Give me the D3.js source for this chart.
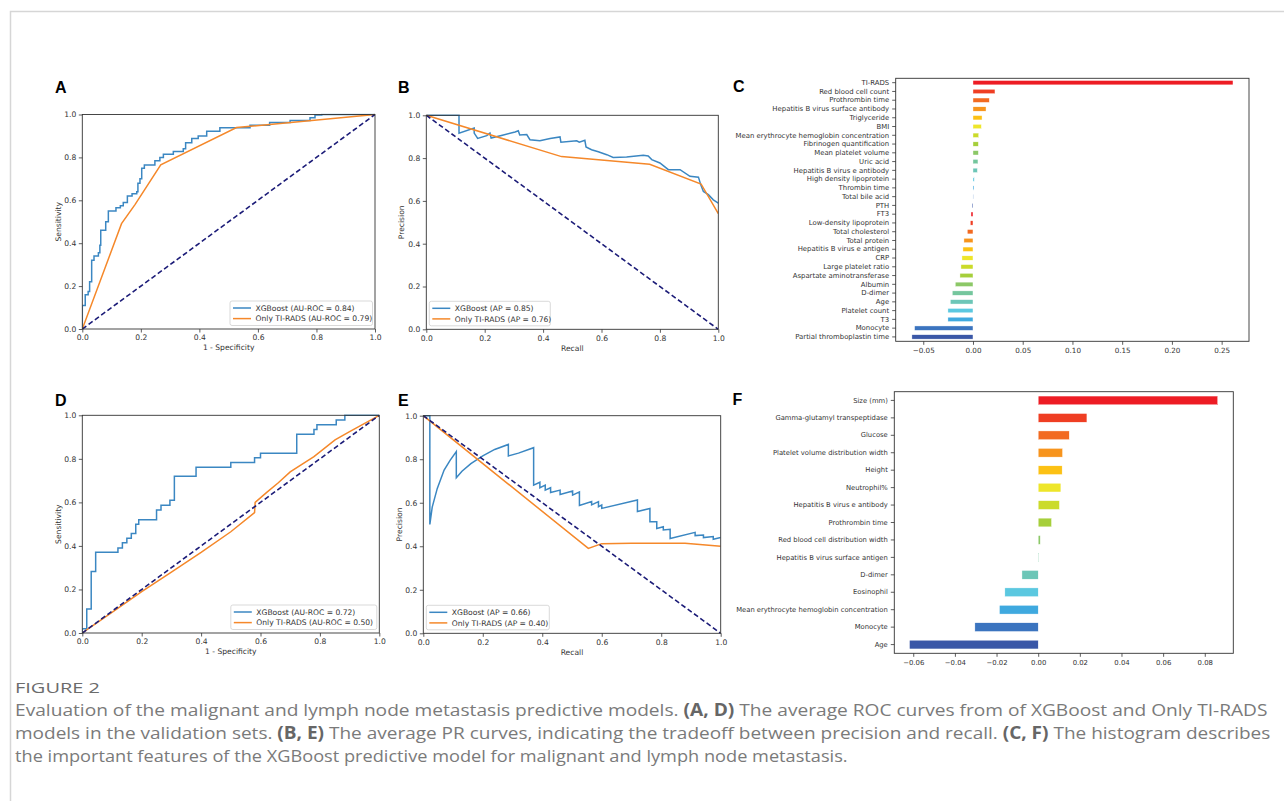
<!DOCTYPE html>
<html><head><meta charset="utf-8">
<script src="https://cdn.jsdelivr.net/npm/d3@7"></script>
<style>html,body{margin:0;padding:0;background:#fff;} svg{display:block;}</style>
</head><body>
<script>
// ---------------- DATA ----------------
const rocTicks = [0, 0.2, 0.4, 0.6, 0.8, 1.0];
const legendA = ['XGBoost (AU-ROC = 0.84)', 'Only TI-RADS (AU-ROC = 0.79)'];
const legendB = ['XGBoost (AP = 0.85)', 'Only TI-RADS (AP = 0.76)'];
const legendD = ['XGBoost (AU-ROC = 0.72)', 'Only TI-RADS (AU-ROC = 0.50)'];
const legendE = ['XGBoost (AP = 0.66)', 'Only TI-RADS (AP = 0.40)'];

// Panel A ROC (malignancy) — XGBoost staircase corners (fpr, tpr)
const aXgbX = [0,0,0.01,0.02,0.025,0.032,0.04,0.055,0.06,0.063,0.08,0.089,0.115,0.13,0.14,0.154,0.17,0.186,0.19,0.197,0.203,0.212,0.248,0.265,0.277,0.311,0.345,0.353,0.374,0.396,0.425,0.47,0.573,0.64,0.71,0.778,0.795,0.818,1];
const aXgbY = [0,0.11,0.16,0.175,0.22,0.32,0.34,0.355,0.39,0.46,0.50,0.55,0.565,0.575,0.59,0.62,0.63,0.64,0.68,0.70,0.75,0.764,0.784,0.80,0.815,0.827,0.84,0.868,0.888,0.90,0.922,0.938,0.95,0.963,0.972,0.985,0.998,1.0,1.0];
const aTiX = [0,0.134,0.18,0.268,0.527,1];
const aTiY = [0,0.491,0.58,0.765,0.939,1];

// Panel B PR (malignancy)
const bXgbX = [0,0.112,0.112,0.164,0.164,0.176,0.207,0.218,0.222,0.264,0.304,0.315,0.32,0.344,0.355,0.389,0.424,0.458,0.461,0.515,0.524,0.543,0.547,0.566,0.589,0.618,0.64,0.686,0.743,0.76,0.772,0.8,0.829,0.869,0.903,0.932,0.94,0.949,0.966,0.983,1.0];
const bXgbY = [1,1,0.916,0.94,0.917,0.892,0.905,0.917,0.894,0.908,0.922,0.928,0.908,0.91,0.886,0.881,0.892,0.899,0.874,0.881,0.874,0.883,0.852,0.839,0.83,0.816,0.803,0.805,0.813,0.81,0.793,0.777,0.746,0.746,0.715,0.711,0.675,0.644,0.629,0.605,0.59];
const bTiX = [0,0.463,0.765,0.941,1.0];
const bTiY = [1,0.807,0.771,0.679,0.541];

// Panel C feature importance (malignancy)
const featuresC = ['TI-RADS','Red blood cell count','Prothrombin time','Hepatitis B virus surface antibody','Triglyceride','BMI','Mean erythrocyte hemoglobin concentration','Fibrinogen quantification','Mean platelet volume','Uric acid','Hepatitis B virus e antibody','High density lipoprotein','Thrombin time','Total bile acid','PTH','FT3','Low-density lipoprotein','Total cholesterol','Total protein','Hepatitis B virus e antigen','CRP','Large platelet ratio','Aspartate aminotransferase','Albumin','D-dimer','Age','Platelet count','T3','Monocyte','Partial thromboplastin time'];
const importanceC = [0.2614,0.0221,0.0164,0.0131,0.0091,0.0084,0.0057,0.0054,0.0054,0.0050,0.0044,0.0013,0.0010,0.0003,-0.0009,-0.0020,-0.0027,-0.0057,-0.0091,-0.0101,-0.0111,-0.0121,-0.0131,-0.0178,-0.0208,-0.0228,-0.0252,-0.0252,-0.0587,-0.0614];
const ticksC = [-0.05,0,0.05,0.10,0.15,0.20,0.25];

// Panel D ROC (lymph node metastasis)
const dXgbX = [0,0,0.015,0.03,0.045,0.12,0.135,0.15,0.165,0.18,0.19,0.25,0.265,0.295,0.31,0.383,0.5,0.58,0.6,0.722,0.78,0.79,0.855,0.884,1];
const dXgbY = [0,0.02,0.11,0.282,0.371,0.39,0.415,0.435,0.457,0.50,0.52,0.565,0.587,0.61,0.72,0.761,0.783,0.805,0.826,0.913,0.935,0.957,0.978,1.0,1.0];
const dTiX = [0,0.1,0.2,0.3,0.4,0.5,0.58,0.582,0.62,0.66,0.7,0.78,0.851,0.9,1];
const dTiY = [0,0.095,0.19,0.28,0.37,0.465,0.553,0.6,0.645,0.69,0.74,0.81,0.887,0.925,1];

// Panel E PR (lymph node metastasis)
const eXgbX = [0,0.022,0.022,0.03,0.047,0.07,0.09,0.111,0.111,0.13,0.16,0.2,0.24,0.286,0.286,0.32,0.371,0.371,0.392,0.392,0.41,0.41,0.428,0.428,0.46,0.46,0.502,0.502,0.525,0.525,0.566,0.566,0.589,0.589,0.6,0.6,0.72,0.72,0.762,0.762,0.785,0.785,0.807,0.807,0.83,0.83,0.914,0.914,0.942,0.942,0.975,0.975,1.0];
const eXgbY = [1,1,0.5,0.58,0.666,0.75,0.795,0.835,0.715,0.745,0.78,0.815,0.845,0.868,0.815,0.828,0.853,0.681,0.694,0.669,0.681,0.658,0.669,0.647,0.658,0.638,0.654,0.635,0.65,0.587,0.605,0.59,0.605,0.582,0.59,0.574,0.613,0.56,0.574,0.513,0.513,0.482,0.49,0.475,0.478,0.436,0.464,0.449,0.452,0.44,0.445,0.432,0.44];
const eTiX = [0,0.555,0.6,0.7,0.88,1.0];
const eTiY = [1,0.39,0.412,0.414,0.414,0.40];

// Panel F feature importance (lymph node metastasis)
const featuresF = ['Size (mm)','Gamma-glutamyl transpeptidase','Glucose','Platelet volume distribution width','Height','Neutrophil%','Hepatitis B virus e antibody','Prothrombin time','Red blood cell distribution width','Hepatitis B virus surface antigen','D-dimer','Eosinophil','Mean erythrocyte hemoglobin concentration','Monocyte','Age'];
const importanceF = [0.0862,0.0234,0.0149,0.0117,0.0115,0.0109,0.0102,0.0064,0.0010,0.0003,-0.0078,-0.0160,-0.0186,-0.0304,-0.0618];
const ticksF = [-0.06,-0.04,-0.02,0,0.02,0.04,0.06,0.08];

const panelLetters = ['A','B','C','D','E','F'];
const captionTitle = 'FIGURE 2';
const captionLines = [
  [['Evaluation of the malignant and lymph node metastasis predictive models. ',0],['(A, D)',1],[' The average ROC curves from of XGBoost and Only TI-RADS',0]],
  [['models in the validation sets. ',0],['(B, E)',1],[' The average PR curves, indicating the tradeoff between precision and recall. ',0],['(C, F)',1],[' The histogram describes',0]],
  [['the important features of the XGBoost predictive model for malignant and lymph node metastasis.',0]]
];

// ---------------- STYLE ----------------
const BLUE = '#3b87c2', ORANGE = '#f5882a', NAVY = '#1c1c78';
const palette = ['#ed1c24','#ef3e23','#f26a21','#f7941d','#fcc114','#eee62a','#cbdb2a','#a6cf3b','#8cc867','#74c69d','#6cc6b7','#5bc8e0','#3fa9df','#3b74bf','#3a57a7'];
const FONT = '"DejaVu Sans", Verdana, sans-serif';
const TFS = 7.6; // tick / label font size for line panels

const W = 1284, H = 801;
const svg = d3.select('body').append('svg').attr('width', W).attr('height', H);
const defs = svg.append('defs');

// outer frame
svg.append('path').attr('d', `M10.5,${H} L10.5,11.5 L${W},11.5`).attr('fill','none').attr('stroke','#d6d6d6').attr('stroke-width',1.5);

let clipId = 0;
function styleAxis(sel, fs) {
  sel.select('.domain').remove();
  sel.selectAll('.tick line').attr('stroke', '#333').attr('stroke-width', 0.8);
  sel.selectAll('.tick text').attr('fill', '#333').style('font-family', FONT).style('font-size', fs + 'px');
}

function linePanel(cfg) {
  const g = svg.append('g');
  const x = d3.scaleLinear().domain([0,1]).range([cfg.x0, cfg.x1]);
  const y = d3.scaleLinear().domain([0,1]).range([cfg.y1, cfg.y0]);
  const id = 'clip' + (clipId++);
  defs.append('clipPath').attr('id', id).append('rect')
    .attr('x', cfg.x0).attr('y', cfg.y0 - 1).attr('width', cfg.x1 - cfg.x0).attr('height', cfg.y1 - cfg.y0 + 2);
  const plot = g.append('g').attr('clip-path', `url(#${id})`);
  const mk = (xs, ys, curve) => d3.line().x((d,i)=>x(xs[i])).y((d,i)=>y(ys[i])).curve(curve)(xs);
  plot.append('path').attr('d', mk(cfg.xgbX, cfg.xgbY, cfg.step ? d3.curveStepAfter : d3.curveLinear))
    .attr('fill','none').attr('stroke', BLUE).attr('stroke-width', 1.5);
  plot.append('path').attr('d', mk(cfg.tiX, cfg.tiY, d3.curveLinear))
    .attr('fill','none').attr('stroke', ORANGE).attr('stroke-width', 1.5);
  const diag = cfg.pr ? [[0,1],[1,0]] : [[0,0],[1,1]];
  plot.append('line').attr('x1', x(diag[0][0])).attr('y1', y(diag[0][1])).attr('x2', x(diag[1][0])).attr('y2', y(diag[1][1]))
    .attr('stroke', NAVY).attr('stroke-width', 1.6).attr('stroke-dasharray', '5,2.8');
  // spines
  g.append('rect').attr('x', cfg.x0).attr('y', cfg.y0).attr('width', cfg.x1 - cfg.x0).attr('height', cfg.y1 - cfg.y0)
    .attr('fill','none').attr('stroke','#333').attr('stroke-width',0.9);
  const fmt = d3.format('.1f');
  const ax = g.append('g').attr('transform', `translate(0,${cfg.y1})`)
    .call(d3.axisBottom(x).tickValues(rocTicks).tickFormat(fmt).tickSize(3.5).tickPadding(2.6));
  styleAxis(ax, TFS);
  const ay = g.append('g').attr('transform', `translate(${cfg.x0},0)`)
    .call(d3.axisLeft(y).tickValues(rocTicks).tickFormat(fmt).tickSize(3.5).tickPadding(2.5));
  styleAxis(ay, TFS);
  g.append('text').attr('x', (cfg.x0+cfg.x1)/2).attr('y', cfg.y1 + 21.3).attr('text-anchor','middle')
    .style('font-family', FONT).style('font-size', TFS + 'px').attr('fill','#333').text(cfg.xlabel);
  g.append('text').attr('transform', `translate(${cfg.ylabX},${(cfg.y0+cfg.y1)/2}) rotate(-90)`).attr('text-anchor','middle')
    .attr('dy','0.35em').style('font-family', FONT).style('font-size', TFS + 'px').attr('fill','#333').text(cfg.ylabel);
  // legend
  const lw = cfg.legW, lh = 24.5;
  const lx = cfg.legRight ? cfg.x1 - 2.5 - lw : cfg.x0 + 3;
  const ly = cfg.y1 - 3.5 - lh;
  const lg = g.append('g').attr('transform', `translate(${lx},${ly})`);
  lg.append('rect').attr('width', lw).attr('height', lh).attr('rx', 2).attr('fill','#fff').attr('fill-opacity',0.85)
    .attr('stroke','#cfcfcf').attr('stroke-width',0.8);
  cfg.legend.forEach((t, i) => {
    const yy = 7 + i * 10.6;
    lg.append('line').attr('x1', 3).attr('x2', 21).attr('y1', yy).attr('y2', yy)
      .attr('stroke', i === 0 ? BLUE : ORANGE).attr('stroke-width', 1.5);
    lg.append('text').attr('x', 25.5).attr('y', yy).attr('dy','0.35em')
      .style('font-family', FONT).style('font-size', TFS + 'px').attr('fill','#333').text(t);
  });
  // letter
  svg.append('text').attr('x', cfg.letterX).attr('y', cfg.letterY)
    .style('font-family','"Liberation Sans", Arial, sans-serif').style('font-weight','bold').style('font-size','16px')
    .attr('fill','#000').text(cfg.letter);
}

function barPanel(cfg) {
  const g = svg.append('g');
  const x = d3.scaleLinear().domain(cfg.domain).range([cfg.x0, cfg.x1]);
  const y = d3.scaleBand().domain(cfg.names).range([cfg.y0, cfg.y1]).paddingInner(0.5).paddingOuter(0.25);
  g.selectAll('rect.bar').data(cfg.values).enter().append('rect').attr('class','bar')
    .attr('x', d => x(Math.min(0, d))).attr('width', d => Math.abs(x(d) - x(0)))
    .attr('y', (d,i) => y(cfg.names[i])).attr('height', y.bandwidth())
    .attr('fill', (d,i) => palette[i % palette.length])
    .attr('stroke','#fff').attr('stroke-width',0.4);
  g.append('rect').attr('x', cfg.x0).attr('y', cfg.y0).attr('width', cfg.x1 - cfg.x0).attr('height', cfg.y1 - cfg.y0)
    .attr('fill','none').attr('stroke','#333').attr('stroke-width',0.9);
  const ax = g.append('g').attr('transform', `translate(0,${cfg.y1})`)
    .call(d3.axisBottom(x).tickValues(cfg.ticks).tickFormat(d3.format('.2f')).tickSize(3.5).tickPadding(3));
  styleAxis(ax, cfg.xfs);
  const ay = g.append('g').attr('transform', `translate(${cfg.x0},0)`)
    .call(d3.axisLeft(y).tickSize(3.5).tickPadding(3));
  styleAxis(ay, cfg.yfs);
  svg.append('text').attr('x', cfg.letterX).attr('y', cfg.letterY)
    .style('font-family','"Liberation Sans", Arial, sans-serif').style('font-weight','bold').style('font-size','16px')
    .attr('fill','#000').text(cfg.letter);
}

linePanel({letter: panelLetters[0], letterX: 55, letterY: 93, x0: 82.3, x1: 375, y0: 114.5, y1: 329,
  xgbX: aXgbX, xgbY: aXgbY, tiX: aTiX, tiY: aTiY, step: true, pr: false,
  xlabel: '1 - Specificity', ylabel: 'Sensitivity', ylabX: 58.3, legend: legendA, legRight: true, legW: 142.5});
linePanel({letter: panelLetters[1], letterX: 398, letterY: 93, x0: 426.3, x1: 718.3, y0: 115.3, y1: 329.3,
  xgbX: bXgbX, xgbY: bXgbY, tiX: bTiX, tiY: bTiY, step: false, pr: true,
  xlabel: 'Recall', ylabel: 'Precision', ylabX: 401.5, legend: legendB, legRight: false, legW: 121});
barPanel({letter: panelLetters[2], letterX: 733, letterY: 92, x0: 895.7, x1: 1249, y0: 78.3, y1: 341.3,
  domain: [-0.0777, 0.2775], names: featuresC, values: importanceC, ticks: ticksC, xfs: 7.2, yfs: 6.9});
linePanel({letter: panelLetters[3], letterX: 55, letterY: 405.5, x0: 82.3, x1: 379.3, y0: 415.3, y1: 633,
  xgbX: dXgbX, xgbY: dXgbY, tiX: dTiX, tiY: dTiY, step: true, pr: false,
  xlabel: '1 - Specificity', ylabel: 'Sensitivity', ylabX: 58.3, legend: legendD, legRight: true, legW: 146});
linePanel({letter: panelLetters[4], letterX: 398, letterY: 405.5, x0: 423.3, x1: 720.7, y0: 415.7, y1: 633.3,
  xgbX: eXgbX, xgbY: eXgbY, tiX: eTiX, tiY: eTiY, step: false, pr: true,
  xlabel: 'Recall', ylabel: 'Precision', ylabX: 399.5, legend: legendE, legRight: false, legW: 123});
barPanel({letter: panelLetters[5], letterX: 732.5, letterY: 405, x0: 894.3, x1: 1233.3, y0: 391.7, y1: 653.3,
  domain: [-0.0691, 0.0937], names: featuresF, values: importanceF, ticks: ticksF, xfs: 6.9, yfs: 6.8});

// ---------------- CAPTION ----------------
const CAPFONT = '"Liberation Sans Narrow", "Open Sans", sans-serif';
function fitText(parent, baseline, target, build) {
  const gg = parent.append('g');
  const t = gg.append('text').attr('x', 0).attr('y', 0);
  build(t);
  const w = t.node().getComputedTextLength();
  gg.attr('transform', `translate(15,${baseline}) scale(${target / w},1)`);
}
fitText(svg, 693, 85, t => {
  t.style('font-family', CAPFONT).style('font-size','14.5px').attr('fill','#6b6b6b').text(captionTitle);
});
const lineTargets = [1253, 1257, 833];
const lineBase = [716, 739.2, 762.4];
captionLines.forEach((parts, i) => {
  fitText(svg, lineBase[i], lineTargets[i], t => {
    t.style('font-family', CAPFONT).style('font-size','17px').attr('fill','#7a7a7a');
    parts.forEach(p => t.append('tspan').style('font-weight', p[1] ? 'bold' : 'normal')
      .attr('fill', p[1] ? '#666' : '#7a7a7a').text(p[0]));
  });
});
</script></body></html>
